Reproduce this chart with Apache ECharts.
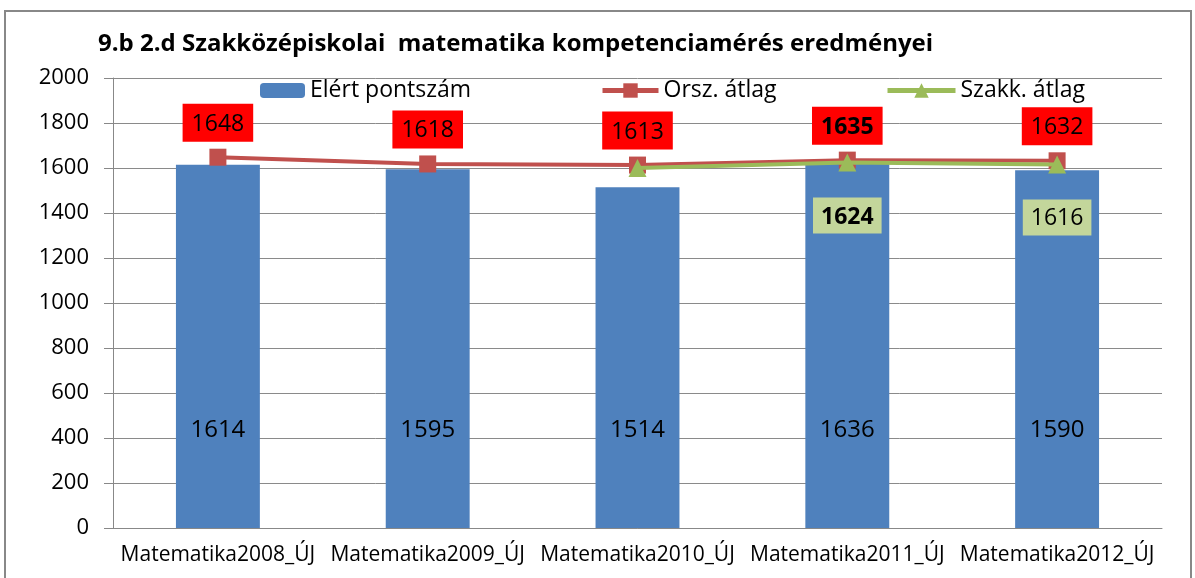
<!DOCTYPE html>
<html>
<head>
<meta charset="utf-8">
<script src="https://cdn.jsdelivr.net/npm/echarts@6/dist/echarts.min.js"></script>
<style>
  html, body { margin: 0; padding: 0; background: #fff; }
  #main { width: 1195px; height: 578px; }
</style>
</head>
<body>
<div id="main"></div>
<script>
const categories = ['Matematika2008_ÚJ', 'Matematika2009_ÚJ', 'Matematika2010_ÚJ', 'Matematika2011_ÚJ', 'Matematika2012_ÚJ']
const elertPontszam = [1614, 1595, 1514, 1636, 1590]
const orszAtlag = [1648, 1618, 1613, 1635, 1632]
const szakkAtlag = [null, null, 1600, 1624, 1616]
const yTicks = [0, 200, 400, 600, 800, 1000, 1200, 1400, 1600, 1800, 2000]

const font = 'Open Sans'
const chart = echarts.init(document.getElementById('main'))

// only the last two green points carry a label
const szakkLabelShown = [false, false, false, true, true]

chart.setOption({
    backgroundColor: '#fff',
    textStyle: { fontFamily: font },
    title: {
        text: '9.b 2.d Szakközépiskolai  matematika kompetenciamérés eredményei',
        left: 93,
        top: 27,
        textStyle: { fontFamily: font, fontSize: 24, fontWeight: 'bold', color: '#000' }
    },
    graphic: [{
        type: 'rect',
        shape: { x: 5, y: 11, width: 1186, height: 600 },
        style: { fill: 'none', stroke: '#888', lineWidth: 2 },
        silent: true
    }],
    legend: [
        { data: ['Elért pontszám'], left: 255, top: 74, itemWidth: 45, itemHeight: 15, itemGap: 5,
          textStyle: { fontSize: 23, color: '#000', fontFamily: font } },
        { data: ['Orsz. átlag'], left: 595, top: 74, itemWidth: 56, itemHeight: 18, itemGap: 5,
          lineStyle: { width: 5 },
          textStyle: { fontSize: 23, color: '#000', fontFamily: font } },
        { data: ['Szakk. átlag'], left: 880, top: 74, itemWidth: 68, itemHeight: 18, itemGap: 5,
          lineStyle: { width: 5 },
          textStyle: { fontSize: 23, color: '#000', fontFamily: font } }
    ],
    grid: { left: 113, right: 33, top: 78, bottom: 50 },
    xAxis: {
        type: 'category',
        data: categories,
        axisLine: { lineStyle: { color: '#888' } },
        axisTick: { length: 8, lineStyle: { color: '#888' } },
        axisLabel: { color: '#000', fontSize: 21, margin: 17, interval: 0 }
    },
    yAxis: {
        type: 'value',
        min: yTicks[0],
        max: yTicks[yTicks.length - 1],
        interval: 200,
        axisLine: { show: true, lineStyle: { color: '#888' } },
        axisTick: { show: true, length: 9, lineStyle: { color: '#888' } },
        axisLabel: { color: '#000', fontSize: 22, margin: 24, formatter: v => String(v) },
        splitLine: { lineStyle: { color: '#8a8a8a' } }
    },
    series: [
        {
            name: 'Elért pontszám',
            type: 'bar',
            data: elertPontszam,
            barWidth: '40%',
            itemStyle: { color: '#4F81BD' },
            label: { show: true, position: 'insideBottom', distance: 86, fontSize: 24, color: '#000' }
        },
        {
            name: 'Orsz. átlag',
            type: 'line',
            data: orszAtlag.map((v, i) => i === 3 ? { value: v, label: { fontWeight: 'bold' } } : v),
            symbol: 'rect',
            symbolSize: 17,
            lineStyle: { color: '#C0504D', width: 4 },
            itemStyle: { color: '#C0504D' },
            z: 3,
            label: {
                show: true, position: 'top', distance: 7, fontSize: 23, color: '#000',
                backgroundColor: '#FF0000', padding: [9, 9, 6, 9]
            }
        },
        {
            name: 'Szakk. átlag',
            type: 'line',
            data: szakkAtlag.map((v, i) => ({
                value: v,
                label: { show: szakkLabelShown[i], fontWeight: i === 3 ? 'bold' : 'normal' }
            })),
            symbol: 'triangle',
            symbolSize: 18,
            lineStyle: { color: '#9BBB59', width: 4 },
            itemStyle: { color: '#9BBB59' },
            z: 4,
            label: {
                position: 'bottom', distance: 26, fontSize: 23, color: '#000',
                backgroundColor: '#C3D69B', padding: [8, 8, 5, 8]
            }
        }
    ]
})
</script>
</body>
</html>
